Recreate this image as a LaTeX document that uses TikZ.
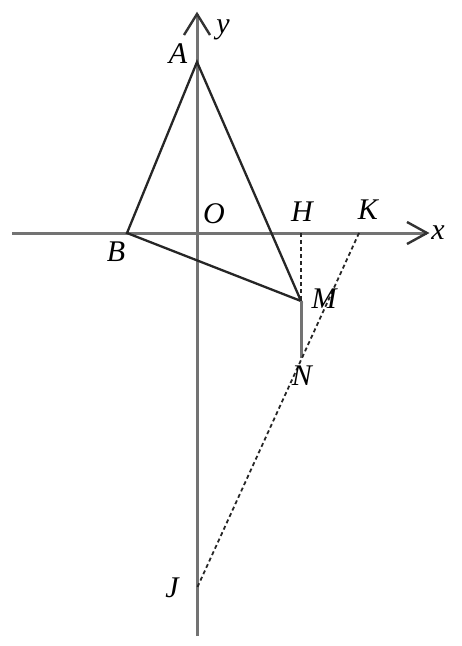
\documentclass[tikz,border=0pt]{standalone}
\usepackage{fontspec}
\setmainfont{Liberation Serif}
\usetikzlibrary{arrows.meta}
\begin{document}
\begin{tikzpicture}[x=1pt,y=-1pt,
  axis/.style={draw=gray!90!black,line width=3pt},
  tri/.style={draw=black!85,line width=2.3pt},
  aux/.style={draw=black!85,line width=1.8pt,dash pattern=on 4pt off 3pt},
  lbl/.style={font=\fontsize{30}{32}\selectfont\itshape,inner sep=0pt},
  chev/.style={draw=black!80,line width=2.4pt}]
\useasboundingbox (0,0) rectangle (462,646);
% points
\coordinate (O) at (197,233);
\coordinate (A) at (197,62);
\coordinate (B) at (127,233);
\coordinate (M) at (301,301);
\coordinate (N) at (301,358);
\coordinate (H) at (301,233);
\coordinate (K) at (359,233);
\coordinate (J) at (197,588);
\coordinate (xl) at (12,233);
\coordinate (xr) at (427,233);
\coordinate (yb) at (197,636);
\coordinate (yt) at (197,14);
\coordinate (xa1) at (407,222);
\coordinate (xa2) at (407,244);
\coordinate (ya1) at (184,35);
\coordinate (ya2) at (210,35);
% axes
\draw[axis] (xl) -- (xr);
\draw[axis] (yb) -- (yt);
\draw[chev] (xa1) -- (xr) -- (xa2);
\draw[chev] (ya1) -- (yt) -- (ya2);
% triangle
\draw[tri] (A) -- (B) -- (M) -- cycle;
\draw[axis,line width=3pt] (M) -- (N);
% dashed
\draw[aux] (H) -- (M);
\draw[aux] (K) -- (J);
% labels
\node[lbl] (lA) at (178,54) {A};
\node[lbl] (ly) at (223,30) {y};
\node[lbl] (lO) at (214,214) {O};
\node[lbl] (lB) at (116,252) {B};
\node[lbl] (lH) at (302,212) {H};
\node[lbl] (lK) at (368,210) {K};
\node[lbl] (lx) at (438,233) {x};
\node[lbl] (lM) at (324,299) {M};
\node[lbl] (lN) at (302,376) {N};
\node[lbl] (lJ) at (172,588) {J};
\end{tikzpicture}
\end{document}
